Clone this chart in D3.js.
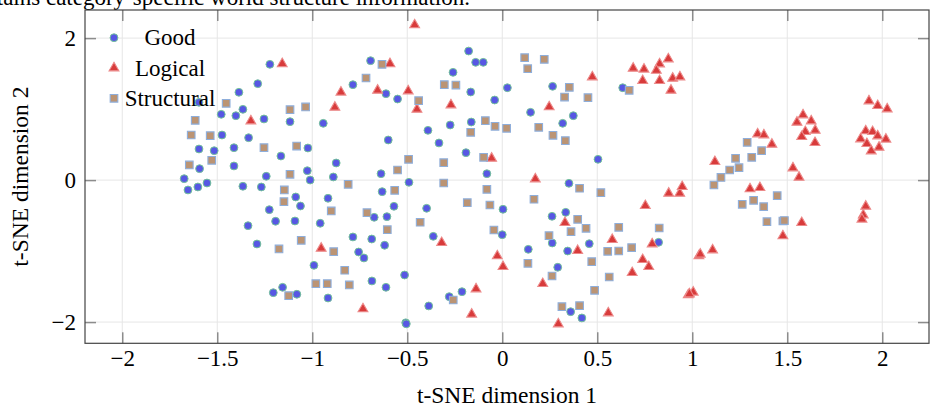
<!DOCTYPE html>
<html>
<head>
<meta charset="utf-8">
<script src="https://cdn.jsdelivr.net/npm/d3@7/dist/d3.min.js"></script>
<style>
  html, body { margin: 0; padding: 0; background: #fff; }
  svg { display: block; }
  text { font-family: "Liberation Serif", "Times New Roman", serif; fill: #000; }
</style>
</head>
<body>
<svg id="chart" width="930" height="407"></svg>
<script>
// ---- data (t-SNE coordinates) ----
const seriesNames = ["Good", "Logical", "Structural"];

const goodPoints = [
  [-1.223,1.631],[-1.287,1.358],[-1.386,1.237],[-1.596,1.096],[-1.365,0.997],[-1.479,0.927],[-1.402,0.907],
  [-1.254,0.861],[-1.117,0.823],[-1.475,0.635],[-1.335,0.597],[-1.596,0.438],[-1.516,0.414],[-1.412,0.456],
  [-1.165,0.339],[-1.593,0.161],[-1.412,0.199],[-1.242,0.054],[-1.674,0.020],
  [-1.654,-0.139],[-1.602,-0.097],[-1.554,-0.041],[-1.365,-0.087],[-1.268,-0.097],[-1.087,-0.238],[-1.226,-0.417],
  [-1.193,-0.580],[-1.091,-0.576],[-1.338,-0.642],[-1.291,-0.900],[-1.156,-1.510],[-1.205,-1.586],[-1.081,-1.608],
  [-0.177,1.818],[-0.693,1.682],[-0.140,1.659],[-0.100,1.659],[-0.259,1.518],[-0.786,1.344],[0.027,1.301],
  [-0.612,1.217],[-0.551,1.142],[-0.166,1.241],[-0.040,1.128],[-0.942,0.800],[-0.391,0.701],[-0.274,0.776],
  [-0.163,0.818],[-0.600,0.565],[-0.333,0.523],[-0.191,0.386],[-1.023,0.452],[-0.874,0.241],[-1.026,0.132],
  [-0.889,0.044],[-0.638,0.090],[-0.081,0.090],
  [-1.011,0.001],[-0.491,-0.031],[-0.632,-0.163],[-1.062,-0.365],[-0.917,-0.256],[-0.674,-0.524],[-0.607,-0.515],
  [-0.570,-0.369],[-0.398,-0.397],[0.004,-0.411],[-0.958,-0.608],[0.000,-0.769],[-0.786,-0.801],[-0.687,-0.830],
  [-0.619,-0.918],[-0.363,-0.792],[-0.756,-1.013],[-0.728,-1.097],[-0.991,-1.200],[-0.514,-1.337],[-0.686,-1.421],
  [-0.612,-1.510],[-0.917,-1.661],[-0.279,-1.642],[-0.212,-1.572],[-0.387,-1.773],[-0.508,-2.010],[-0.505,-2.025],
  [0.265,1.321],[0.634,1.301],[0.149,0.955],[0.374,0.907],[0.318,0.800],[0.504,0.293],
  [0.351,-0.045],[0.262,-0.510],[0.334,-0.454],[0.263,-0.886],[0.137,-0.975],[0.344,-0.999],[0.458,-0.896],
  [0.823,-0.876],[0.292,-1.228],[0.360,-1.854],[0.419,-1.942]
];

const logicalPoints = [
  [-1.158,1.639],[-1.323,0.832],
  [-0.461,2.185],[-0.591,1.639],[-0.849,1.237],[-0.656,1.265],[-0.495,1.255],[-0.449,0.997],[-0.270,1.058],
  [-0.881,1.025],[-0.056,0.307],
  [-0.319,-0.882],[-0.953,-0.961],[-0.026,-1.069],[0.004,-1.220],[-0.733,-1.815],[-0.138,-1.534],[-0.161,-1.890],
  [0.474,1.452],[0.689,1.575],[0.746,1.561],[0.828,1.635],[0.874,1.706],[0.811,1.546],[0.739,1.400],[0.828,1.400],
  [0.897,1.434],[0.935,1.452],[0.888,1.265],[0.247,1.030],[1.119,0.259],[0.174,0.015],
  [0.876,-0.186],[0.934,-0.186],[0.947,-0.093],[0.753,-0.361],[0.330,-0.600],[0.397,-0.994],[0.579,-0.839],
  [0.789,-0.900],[0.739,-1.121],[0.771,-1.220],[0.684,-1.304],[0.213,-1.459],[1.035,-1.069],[1.042,-1.045],
  [1.107,-0.985],[0.979,-1.618],[1.005,-1.580],[0.985,-1.605],[0.295,-2.027],[0.558,-1.872],
  [1.344,0.649],[1.377,0.635],[1.419,0.504],[1.583,0.917],[1.551,0.814],[1.626,0.832],[1.595,0.682],[1.647,0.701],
  [1.576,0.611],[1.646,0.527],[1.530,0.170],[1.562,0.039],[1.930,1.114],[1.976,1.048],[2.026,1.001],[1.913,0.692],
  [1.949,0.682],[1.976,0.621],[1.886,0.579],[2.019,0.575],[1.919,0.513],[1.983,0.462],[1.942,0.410],
  [1.304,-0.125],[1.356,-0.107],[1.576,-0.600],[1.477,-0.787],[1.913,-0.369],[1.900,-0.492],[1.893,-0.552]
];

const structuralPoints = [
  [-1.453,1.082],[-1.117,0.992],[-1.616,0.842],[-1.637,0.635],[-1.537,0.625],[-1.254,0.456],[-1.082,0.480],
  [-1.529,0.279],[-1.647,0.213],[-1.117,0.082],
  [-1.147,-0.139],[-1.149,-0.304],[-1.175,-0.970],[-1.124,-1.628],
  [-0.633,1.631],[-0.717,1.438],[-0.305,1.344],[-0.244,1.339],[-0.440,1.118],[-1.035,1.030],[-0.166,0.673],
  [-0.089,0.837],[-0.038,0.758],[0.023,0.730],[-0.098,0.321],[-0.551,0.142],[-0.493,0.293],[-0.308,0.245],
  [-0.811,-0.059],[-0.308,-0.041],[-0.081,-0.130],[-0.566,-0.144],[-0.900,-0.435],[-0.712,-0.459],[-0.184,-0.318],
  [-0.065,-0.351],[-0.605,-0.699],[-0.432,-0.594],[-0.044,-0.703],[-1.058,-0.848],[-0.887,-1.008],[-0.829,-1.270],
  [-0.981,-1.459],[-0.921,-1.459],[-0.805,-1.477],[-0.258,-1.689],
  [0.118,1.724],[0.221,1.701],[0.134,1.569],[0.353,1.307],[0.328,1.170],[0.451,1.161],[0.668,1.265],
  [0.192,0.744],[0.267,0.631],[0.332,0.555],
  [0.407,-0.115],[0.519,-0.177],[0.167,-0.270],[1.114,-0.069],[0.397,-0.552],[0.441,-0.679],[0.362,-0.727],
  [0.246,-0.783],[0.613,-0.665],[0.826,-0.675],[0.555,-1.003],[0.613,-0.999],[0.681,-0.952],[0.471,-1.149],
  [0.135,-1.172],[0.262,-1.351],[0.563,-1.365],[0.486,-1.552],[0.314,-1.783],[0.407,-1.769],
  [1.151,0.037],[1.289,0.532],[1.365,0.414],[1.313,0.321],[1.228,0.307],[1.246,0.175],[1.197,0.142],
  [1.447,-0.220],[1.263,-0.341],[1.323,-0.285],[1.376,-0.375],[1.393,-0.586],[1.477,-0.576],[1.485,-0.570]
];

const xTickValues = [-2, -1.5, -1, -0.5, 0, 0.5, 1, 1.5, 2];
const xTickLabels = ["\u22122", "\u22121.5", "\u22121", "\u22120.5", "0", "0.5", "1", "1.5", "2"];
const yTickValues = [-2, 0, 2];
const yTickLabels = ["\u22122", "0", "2"];

const xLabel = "t-SNE dimension 1";
const yLabel = "t-SNE dimension 2";
const topText = "contains category-specific world structure information.";

// ---- layout ----
const W = 930, H = 407;
const L = 85, R = 929, T = 10, B = 343.3;
const x = d3.scaleLinear().domain([-2.196, 2.246]).range([L, R]);
const y = d3.scaleLinear().domain([-2.299, 2.396]).range([B, T]);

const svg = d3.select("#chart");

// cut-off caption line at the very top (the reference shows it clipped)
svg.append("text")
  .attr("x", 470).attr("y", 4.5)
  .attr("text-anchor", "end")
  .style("font-size", "23px")
  .text(topText);

// grid
const grid = svg.append("g").attr("stroke", "#e6e6e6").attr("stroke-width", 1);
grid.selectAll(".gx").data(xTickValues).join("line")
  .attr("x1", d => x(d)).attr("x2", d => x(d)).attr("y1", T).attr("y2", B);
grid.selectAll(".gy").data(yTickValues).join("line")
  .attr("y1", d => y(d)).attr("y2", d => y(d)).attr("x1", L).attr("x2", R);

// axes
const tickLen = 11;
function styleAxis(g) {
  g.select(".domain").remove();
  g.selectAll(".tick line").attr("stroke", "#8c8c8c").attr("stroke-width", 1.5);
  g.selectAll(".tick text").style("font-size", "23px")
    .style("font-family", "'Liberation Serif', 'Times New Roman', serif").attr("fill", "#000");
}
svg.append("g").attr("transform", `translate(0,${B})`)
  .call(d3.axisBottom(x).tickValues(xTickValues).tickFormat((d, i) => xTickLabels[i])
    .tickSizeInner(-tickLen).tickSizeOuter(0).tickPadding(6))
  .call(styleAxis);
svg.append("g").attr("transform", `translate(0,${T})`)
  .call(d3.axisTop(x).tickValues(xTickValues).tickFormat("").tickSizeInner(-tickLen).tickSizeOuter(0))
  .call(styleAxis);
svg.append("g").attr("transform", `translate(${L},0)`)
  .call(d3.axisLeft(y).tickValues(yTickValues).tickFormat((d, i) => yTickLabels[i])
    .tickSizeInner(-tickLen).tickSizeOuter(0).tickPadding(9))
  .call(styleAxis);
svg.append("g").attr("transform", `translate(${R},0)`)
  .call(d3.axisRight(y).tickValues(yTickValues).tickFormat("").tickSizeInner(-tickLen).tickSizeOuter(0))
  .call(styleAxis);

// frame
svg.append("rect").attr("x", L).attr("y", T).attr("width", R - L).attr("height", B - T)
  .attr("fill", "none").attr("stroke", "#444").attr("stroke-width", 1.2);

// axis titles
svg.append("text").attr("x", (L + R) / 2).attr("y", 403).attr("text-anchor", "middle")
  .style("font-size", "23.5px").text(xLabel);
svg.append("text").attr("transform", `translate(28,${(T + B) / 2}) rotate(-90)`)
  .attr("text-anchor", "middle").style("font-size", "23.5px").text(yLabel);

// markers
const styles = {
  Good:       { fill: "#5757e3", stroke: "#72c29a" },
  Logical:    { fill: "#d83b3b", stroke: "#ec8a8a" },
  Structural: { fill: "#bb9474", stroke: "#8eaedb" }
};
const circleR = 3.9;
const triPath = d3.symbol().type(d3.symbolTriangle).size(42)();
const sqPath = d3.symbol().type(d3.symbolSquare).size(58)();

function drawCircles(g, pts) {
  g.selectAll("circle").data(pts).join("circle")
    .attr("cx", d => x(d[0])).attr("cy", d => y(d[1])).attr("r", circleR)
    .attr("fill", styles.Good.fill).attr("stroke", styles.Good.stroke).attr("stroke-width", 1);
}
function drawPaths(g, pts, path, st) {
  g.selectAll("path").data(pts).join("path")
    .attr("d", path)
    .attr("transform", d => `translate(${x(d[0])},${y(d[1])})`)
    .attr("fill", st.fill).attr("stroke", st.stroke).attr("stroke-width", 1.1);
}
const plot = svg.append("g");
drawCircles(plot.append("g"), goodPoints);
drawPaths(plot.append("g"), logicalPoints, triPath, styles.Logical);
drawPaths(plot.append("g"), structuralPoints, sqPath, styles.Structural);

// legend (no box)
const legendRows = [
  { name: seriesNames[0], kind: "circle" },
  { name: seriesNames[1], kind: "tri" },
  { name: seriesNames[2], kind: "sq" }
];
const lg = svg.append("g");
legendRows.forEach((r, i) => {
  const cy = 37.7 + i * 30.3;
  if (r.kind === "circle") {
    lg.append("circle").attr("cx", 114).attr("cy", cy).attr("r", circleR)
      .attr("fill", styles.Good.fill).attr("stroke", styles.Good.stroke).attr("stroke-width", 1);
  } else {
    const st = r.kind === "tri" ? styles.Logical : styles.Structural;
    lg.append("path").attr("d", r.kind === "tri" ? triPath : sqPath)
      .attr("transform", `translate(114,${cy})`)
      .attr("fill", st.fill).attr("stroke", st.stroke).attr("stroke-width", 1.1);
  }
  lg.append("text").attr("x", 170).attr("y", cy).attr("dy", "0.33em")
    .attr("text-anchor", "middle").style("font-size", "23px").text(r.name);
});
</script>
</body>
</html>
